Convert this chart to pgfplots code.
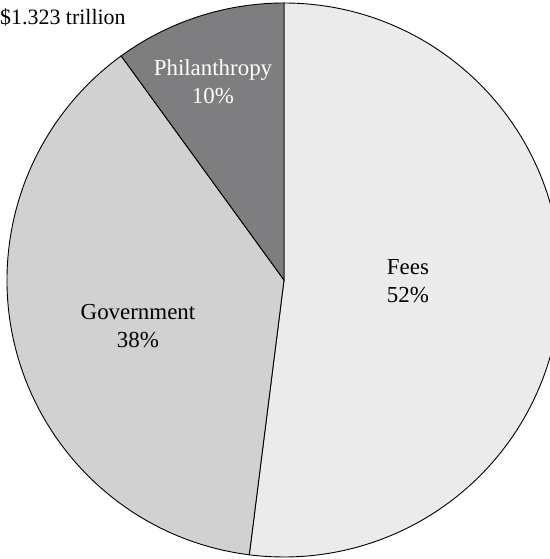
\documentclass[border=0pt]{standalone}
\usepackage{pgfplots}
\pgfplotsset{compat=1.18}
\usepackage{pgfplotstable}
\usepackage{fontspec}
\setmainfont{Liberation Serif}
\definecolor{feescol}{HTML}{EBEBEC}
\definecolor{govcol}{HTML}{D1D1D2}
\definecolor{philcol}{HTML}{7E7E80}
\pgfplotstableread{
label value
Fees 52
Government 38
Philanthropy 10
}\piedata
\begin{document}
\begin{tikzpicture}
\pgfplotstablegetelem{0}{value}\of\piedata \edef\va{\pgfplotsretval}
\pgfplotstablegetelem{1}{value}\of\piedata \edef\vb{\pgfplotsretval}
\pgfplotstablegetelem{2}{value}\of\piedata \edef\vc{\pgfplotsretval}
\pgfmathsetmacro{\aA}{90}
\pgfmathsetmacro{\aB}{90-3.6*\va}
\pgfmathsetmacro{\aC}{\aB-3.6*\vb}
\pgfmathsetmacro{\aD}{\aC-3.6*\vc}
\begin{axis}[
  scale only axis, width=550bp, height=559bp,
  xmin=0, xmax=550, ymin=0, ymax=559,
  hide axis, clip=false]
\draw[fill=feescol, line width=0.9bp] (axis cs:284,279) -- ++(\aA:277bp) arc[start angle=\aA, end angle=\aB, radius=277bp] -- cycle;
\draw[fill=govcol, line width=0.9bp] (axis cs:284,279) -- ++(\aB:277bp) arc[start angle=\aB, end angle=\aC, radius=277bp] -- cycle;
\draw[fill=philcol, line width=0.9bp] (axis cs:284,279) -- ++(\aC:277bp) arc[start angle=\aC, end angle=\aD, radius=277bp] -- cycle;
\node[align=center, font=\fontsize{23}{28}\selectfont] at (axis cs:408,278) {Fees\\\va\%};
\node[align=center, font=\fontsize{23}{28}\selectfont] at (axis cs:138,233) {Government\\\vb\%};
\node[align=center, text=white, font=\fontsize{23}{28}\selectfont] at (axis cs:213,477) {Philanthropy\\\vc\%};
\node[anchor=west, inner sep=0pt, font=\fontsize{22}{24}\selectfont] at (axis cs:0,542) {\$1.323 trillion};
\end{axis}
\pgfresetboundingbox
\useasboundingbox (0,0) rectangle (550bp,559bp);
\end{tikzpicture}
\end{document}
